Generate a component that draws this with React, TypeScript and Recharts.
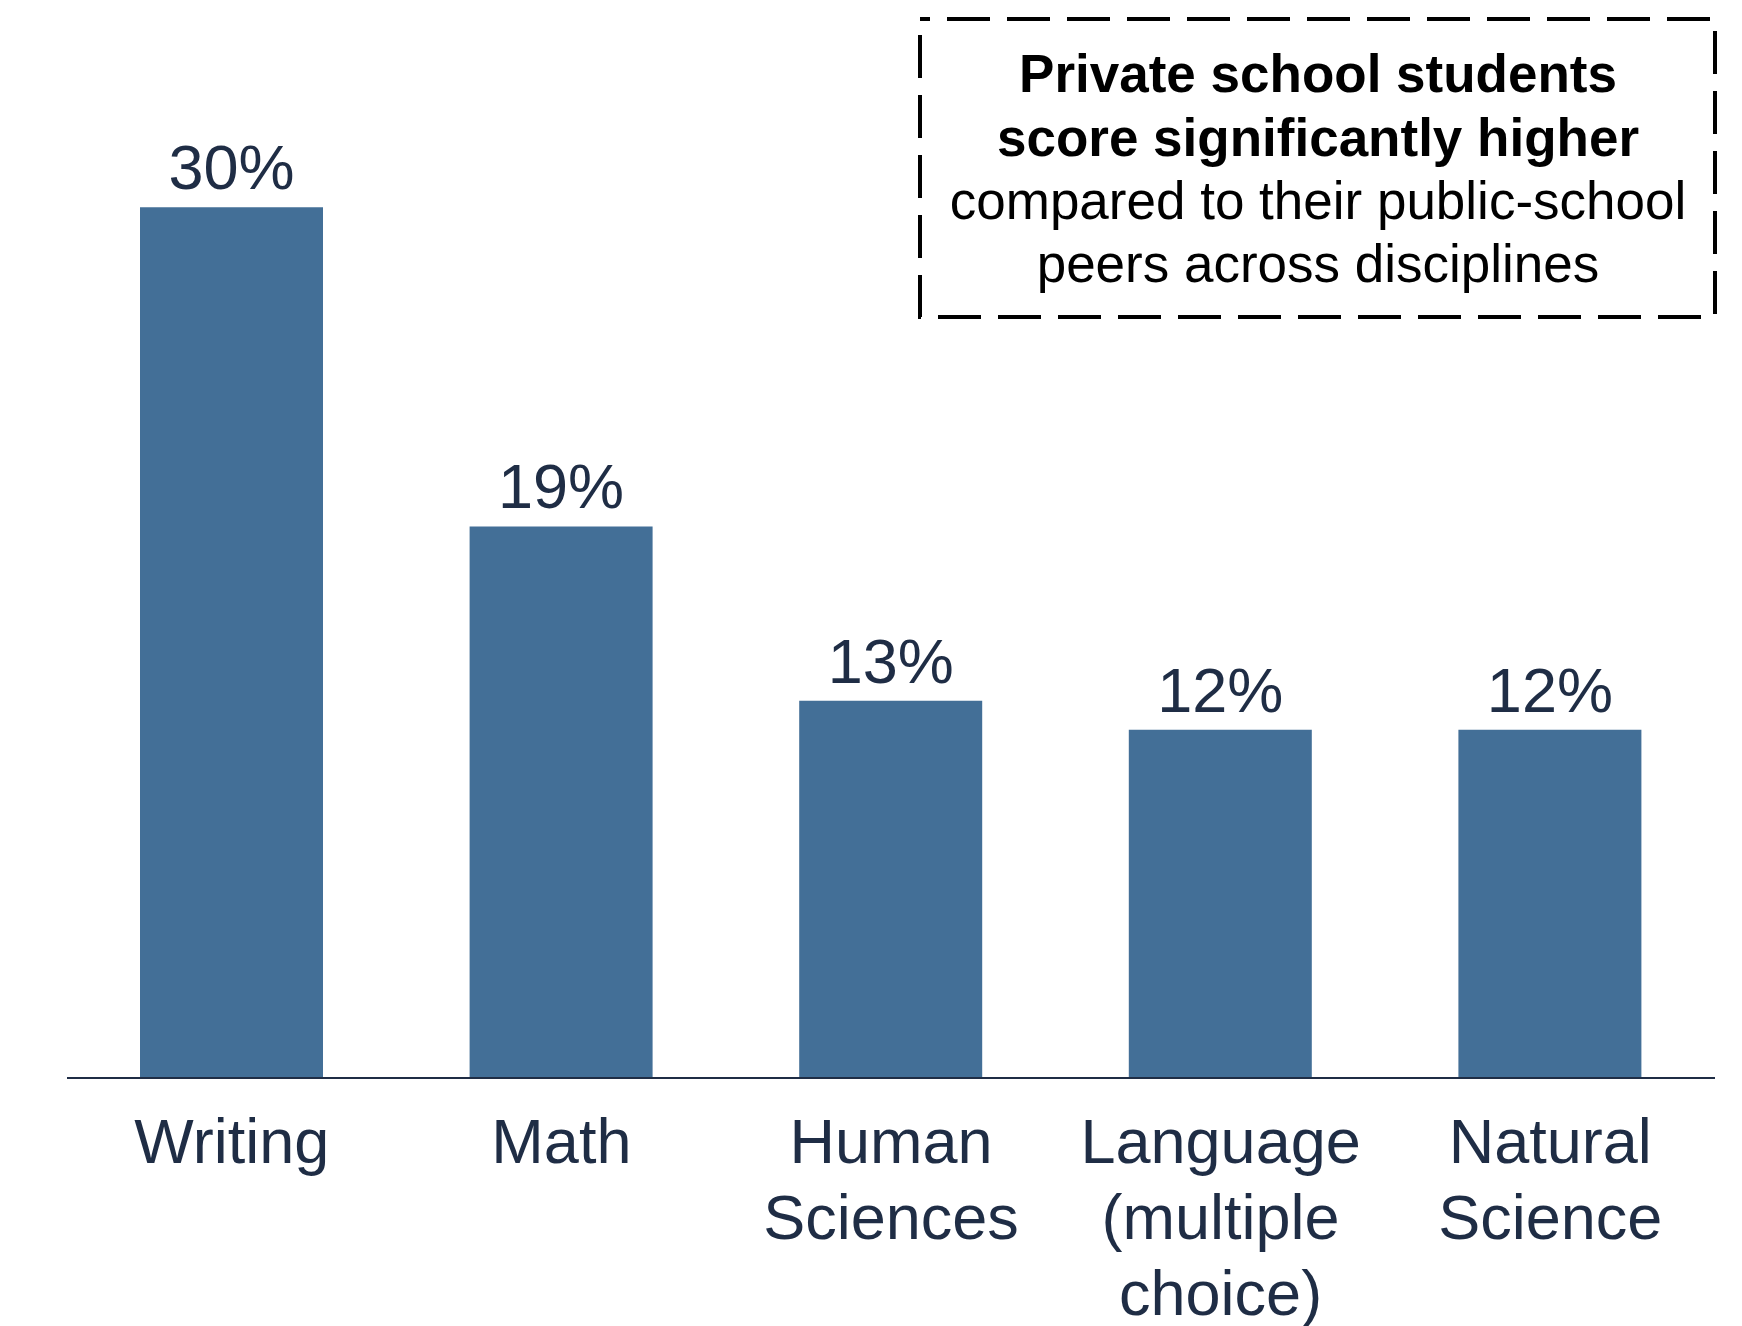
import { Bar, BarChart, LabelList, XAxis, YAxis } from 'recharts'

const categories = ['Writing', 'Math', 'Human\nSciences', 'Language\n(multiple\nchoice)', 'Natural\nScience']
const values = [30, 19, 13, 12, 12]
const noteBold = ['Private school students', 'score significantly higher']
const noteRegular = ['compared to their public-school', 'peers across disciplines']

const FONT = '"Liberation Sans", Arial, sans-serif'
const NAVY = '#1f2d45'
const BAR = '#436f97'

const data = categories.map((name, i) => ({ name, value: values[i] }))

function CategoryTick({ x, y, payload }: any) {
  const lines = String(payload.value).split('\n')
  return (
    <text x={x} y={y} textAnchor="middle" fill={NAVY} fontSize={63} fontFamily={FONT}>
      {lines.map((line, i) => (
        <tspan key={i} x={x} dy={i === 0 ? 85 : 76}>
          {line}
        </tspan>
      ))}
    </text>
  )
}

function NoteBox() {
  const lines = [...noteBold, ...noteRegular]
  const baselines = [92, 156, 219, 282]
  return (
    <svg
      width={1742}
      height={340}
      style={{ position: 'absolute', left: 0, top: 0, pointerEvents: 'none' }}
    >
      <rect
        x={920}
        y={19}
        width={795}
        height={298}
        fill="none"
        stroke="#000"
        strokeWidth={4}
        strokeDasharray="43 17"
        strokeDashoffset={33}
      />
      {lines.map((line, i) => (
        <text
          key={line}
          x={1318}
          y={baselines[i]}
          textAnchor="middle"
          fontSize={53}
          fontFamily={FONT}
          fontWeight={i < noteBold.length ? 700 : 400}
          fill="#000"
        >
          {line}
        </text>
      ))}
    </svg>
  )
}

export default function App() {
  return (
    <div style={{ position: 'absolute', left: 0, top: 0, width: 1742, height: 1326, background: '#fff' }}>
      <BarChart
        width={1742}
        height={1326}
        data={data}
        margin={{ top: 62, right: 27, bottom: 0, left: 67 }}
        barSize={183}
      >
        <XAxis
          dataKey="name"
          height={248}
          interval={0}
          tickLine={false}
          tickSize={0}
          tickMargin={0}
          axisLine={{ stroke: NAVY, strokeWidth: 2 }}
          tick={<CategoryTick />}
        />
        <YAxis hide width={0} domain={[0, 35]} />
        <Bar dataKey="value" fill={BAR} isAnimationActive={false}>
          <LabelList
            dataKey="value"
            position="top"
            offset={18}
            formatter={(v: any) => `${v}%`}
            fill={NAVY}
            fontSize={63}
            fontFamily={FONT}
          />
        </Bar>
      </BarChart>
      <NoteBox />
    </div>
  )
}
